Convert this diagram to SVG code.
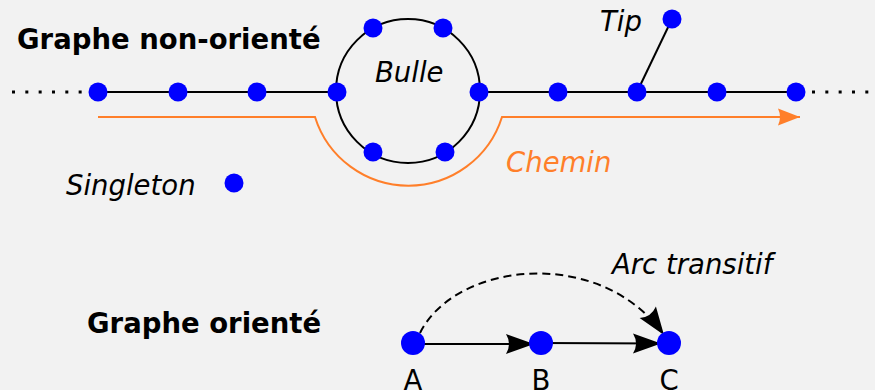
<svg xmlns="http://www.w3.org/2000/svg" width="875" height="390" viewBox="0 0 875 390">
<style>
.bg{fill:#f2f2f2}
.n{fill:#0000ff}
.e{stroke:#000;stroke-width:2;fill:none}
.dots{stroke:#000;stroke-width:3;stroke-dasharray:3 10.33;fill:none}
.t{font-family:"DejaVu Sans",sans-serif;font-size:27.5px;fill:#000}
.i{font-style:italic}
.b{font-weight:bold}
.o{fill:#ff7f2a}
</style>
<defs>
<marker id="ah" markerUnits="userSpaceOnUse" markerWidth="32" markerHeight="24" viewBox="-30 -12 32 24" refX="0" refY="0" orient="auto">
<path d="M0,0 L-28,-10 Q-22,0 -28,10 Z" fill="#000"/>
</marker>
<marker id="aho" markerUnits="userSpaceOnUse" markerWidth="26" markerHeight="20" viewBox="-24 -10 26 20" refX="0" refY="0" orient="auto">
<path d="M0,0 L-22,-8.5 Q-18,0 -22,8.5 Z" fill="#ff7f2a"/>
</marker>
</defs>
<rect class="bg" x="0" y="0" width="875" height="390"/>

<g id="connectors">
<line class="dots" x1="12" y1="92" x2="90" y2="92"/>
<line class="dots" x1="812" y1="92" x2="875" y2="92"/>
<line class="e" x1="98" y1="92" x2="337" y2="92"/>
<line class="e" x1="479" y1="92" x2="796" y2="92"/>
<circle class="e" cx="408" cy="91" r="72"/>
<line class="e" x1="637" y1="92" x2="672" y2="19"/>
<path d="M98,117 H315 A98,98 0 0 0 502,117 H800" fill="none" stroke="#ff7f2a" stroke-width="2" marker-end="url(#aho)"/>
<line class="e" x1="413" y1="344" x2="534" y2="344" marker-end="url(#ah)"/>
<line class="e" x1="541" y1="343" x2="661" y2="343.5" marker-end="url(#ah)"/>
<path class="e" d="M420,333 C455,262 600,245 664,335" stroke-dasharray="8 5" marker-end="url(#ah)"/>
</g>

<g id="n1"><circle class="n" cx="98" cy="92" r="9.5"/></g>
<g id="n2"><circle class="n" cx="178" cy="92" r="9.5"/></g>
<g id="n3"><circle class="n" cx="257" cy="92" r="9.5"/></g>
<g id="n4"><circle class="n" cx="337" cy="92" r="9.5"/></g>
<g id="n5"><circle class="n" cx="373" cy="28" r="9.5"/></g>
<g id="n6"><circle class="n" cx="443" cy="28" r="9.5"/></g>
<g id="n7"><circle class="n" cx="373" cy="152" r="9.5"/></g>
<g id="n8"><circle class="n" cx="445" cy="152" r="9.5"/></g>
<g id="n9"><circle class="n" cx="479" cy="92" r="9.5"/></g>
<g id="n10"><circle class="n" cx="558" cy="92" r="9.5"/></g>
<g id="n11"><circle class="n" cx="637" cy="92" r="9.5"/></g>
<g id="n12"><circle class="n" cx="717" cy="92" r="9.5"/></g>
<g id="n13"><circle class="n" cx="796" cy="92" r="9.5"/></g>
<g id="tip"><circle class="n" cx="672" cy="19" r="9.5"/><text class="t i" x="600" y="31">Tip</text></g>
<g id="singleton"><circle class="n" cx="234" cy="183" r="9.5"/><text class="t i" x="66" y="195">Singleton</text></g>
<g id="nA"><circle class="n" cx="413" cy="343" r="12"/><text class="t" x="413" y="390" text-anchor="middle">A</text></g>
<g id="nB"><circle class="n" cx="541" cy="343" r="12"/><text class="t" x="541" y="390" text-anchor="middle">B</text></g>
<g id="nC"><circle class="n" cx="669" cy="343" r="12"/><text class="t" x="669" y="390" text-anchor="middle">C</text></g>

<g id="labels">
<text class="t b" x="17" y="49">Graphe non-orienté</text>
<text class="t i" x="375" y="82">Bulle</text>
<text class="t i o" x="506" y="172">Chemin</text>
<text class="t b" x="87" y="333">Graphe orienté</text>
<text class="t i" x="612" y="274">Arc transitif</text>
</g>
</svg>
